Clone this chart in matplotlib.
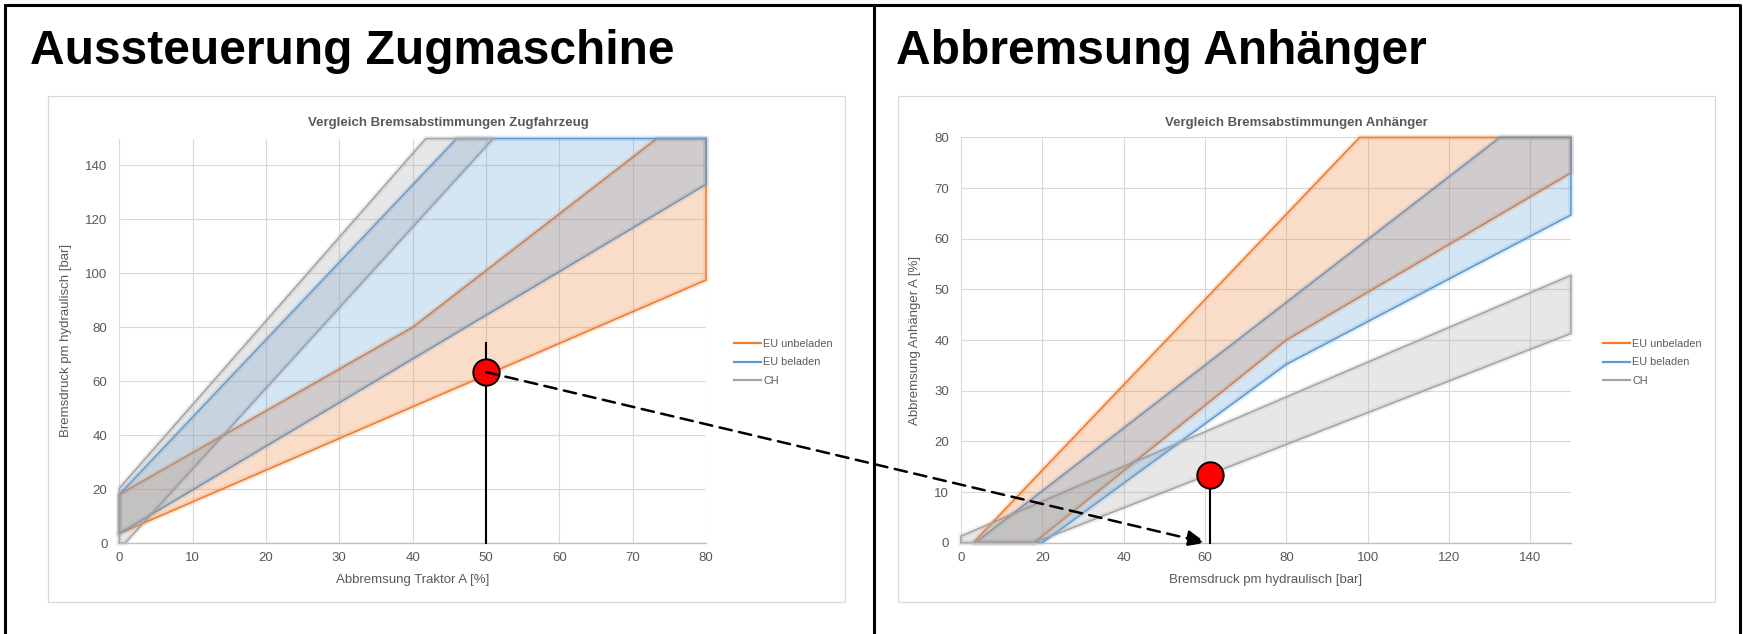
import matplotlib
matplotlib.use("Agg")
import matplotlib.pyplot as plt
from matplotlib.lines import Line2D
from matplotlib.patches import Rectangle, ConnectionPatch
import matplotlib.patheffects as pe

plt.rcParams['font.family'] = ['Liberation Sans', 'DejaVu Sans']

W, H, DPI = 1743, 634, 100
TXT = '#595959'
C_ORANGE = '#ed7d31'
C_BLUE = '#5b9bd5'
C_GRAY = '#a5a5a5'

# ---------------- data: left chart (Zugfahrzeug) ----------------
zf_title = "Vergleich Bremsabstimmungen Zugfahrzeug"
zf_xlabel = "Abbremsung Traktor A [%]"
zf_ylabel = "Bremsdruck pm hydraulisch [bar]"
zf_xticks = [0, 10, 20, 30, 40, 50, 60, 70, 80]
zf_yticks = [0, 20, 40, 60, 80, 100, 120, 140]
zf_xlim = [0, 80]
zf_ylim = [0, 150]

zf_eu_unbeladen_lower_x = [0, 80]
zf_eu_unbeladen_lower_y = [3.5, 97.5]
zf_eu_unbeladen_upper_x = [0, 40, 73.3, 80]
zf_eu_unbeladen_upper_y = [18, 80, 150, 150]

zf_eu_beladen_lower_x = [0, 80]
zf_eu_beladen_lower_y = [3.5, 133]
zf_eu_beladen_upper_x = [0, 46, 80]
zf_eu_beladen_upper_y = [18, 150, 150]

zf_ch_lower_x = [0, 0.8, 51]
zf_ch_lower_y = [0, 0, 150]
zf_ch_upper_x = [0, 41.8]
zf_ch_upper_y = [20.3, 150]

zf_point_x = 50
zf_point_y = 63.4
zf_marker_line_top = 74.3

# ---------------- data: right chart (Anhänger) ----------------
anh_title = "Vergleich Bremsabstimmungen Anhänger"
anh_xlabel = "Bremsdruck pm hydraulisch [bar]"
anh_ylabel = "Abbremsung Anhänger A [%]"
anh_xticks = [0, 20, 40, 60, 80, 100, 120, 140]
anh_yticks = [0, 10, 20, 30, 40, 50, 60, 70, 80]
anh_xlim = [0, 150]
anh_ylim = [0, 80]

anh_eu_unbeladen_lower_x = [18, 80, 150]
anh_eu_unbeladen_lower_y = [0, 40, 73]
anh_eu_unbeladen_upper_x = [3, 98, 150]
anh_eu_unbeladen_upper_y = [0, 80, 80]

anh_eu_beladen_lower_x = [20, 80, 150]
anh_eu_beladen_lower_y = [0, 35.2, 64.7]
anh_eu_beladen_upper_x = [3.5, 132.5, 150]
anh_eu_beladen_upper_y = [0, 80, 80]

anh_ch_lower_x = [0, 18, 150]
anh_ch_lower_y = [0, 0, 41.3]
anh_ch_upper_x = [0, 150]
anh_ch_upper_y = [1.3, 52.8]

anh_point_x = 61.3
anh_point_y = 13.4
arrow_end_x = 60.2
arrow_end_y = 0

legend_labels = ["EU unbeladen", "EU beladen", "CH"]
legend_colors = [C_ORANGE, C_BLUE, C_GRAY]

main_title_left = "Aussteuerung Zugmaschine"
main_title_right = "Abbremsung Anhänger"

# ---------------- figure ----------------
fig = plt.figure(figsize=(W / DPI, H / DPI), dpi=DPI)
fig.patch.set_facecolor('white')


def fx(px):
    return px / W


def fy(py):
    return 1 - py / H


# outer black frame (top, left, right, middle divider)
for (x0, y0, x1, y1) in [(4, 5, 1740, 5), (5, 4, 5, 634), (1740, 4, 1740, 634), (874, 4, 874, 634)]:
    fig.add_artist(Line2D([fx(x0), fx(x1)], [fy(y0), fy(y1)], color='black', lw=2.2,
                          transform=fig.transFigure, solid_capstyle='butt'))

# chart boxes
for (x0, y0, x1, y1) in [(48, 96, 845, 601.5), (898, 95.5, 1715, 601.5)]:
    fig.add_artist(Rectangle((fx(x0), fy(y1)), fx(x1) - fx(x0), fy(y0) - fy(y1),
                             transform=fig.transFigure, fill=False, edgecolor='#d9d9d9', lw=0.9))

# main titles
fig.text(fx(30), fy(63.5), main_title_left, fontsize=34.5, fontweight='bold',
         color='black', ha='left', va='baseline')
fig.text(fx(896), fy(63.5), main_title_right, fontsize=34.5, fontweight='bold',
         color='black', ha='left', va='baseline')

ax1 = fig.add_axes([fx(119.3), fy(543), fx(706) - fx(119.3), fy(138.5) - fy(543)])
ax2 = fig.add_axes([fx(961), fy(542.7), fx(1571) - fx(961), fy(137.4) - fy(542.7)])


def style_axes(ax, xticks, yticks, xlim, ylim, xlabel, ylabel, xlab_y, ylab_x):
    ax.set_xlim(*xlim)
    ax.set_ylim(*ylim)
    ax.set_xticks(xticks)
    ax.set_yticks(yticks)
    ax.set_facecolor('white')
    ax.grid(True, color='#d9d9d9', lw=0.8, zorder=0)
    ax.set_axisbelow(True)
    for s in ['top', 'right', 'left']:
        ax.spines[s].set_visible(False)
    ax.spines['bottom'].set_color('#bfbfbf')
    ax.spines['bottom'].set_linewidth(1.0)
    ax.tick_params(axis='both', length=0, labelsize=9.5, labelcolor=TXT)
    ax.tick_params(axis='y', pad=8.5)
    ax.tick_params(axis='x', pad=6.5)
    ax.set_xlabel(xlabel, fontsize=9.5, color=TXT)
    ax.set_ylabel(ylabel, fontsize=9.5, color=TXT)
    ax.xaxis.label.set_va('center')
    ax.yaxis.label.set_va('center')
    ax.xaxis.set_label_coords(0.5, xlab_y)
    ax.yaxis.set_label_coords(ylab_x, 0.5)


def draw_band(ax, xl, yl, xu, yu, color):
    xs = list(xl) + list(xu)[::-1]
    ys = list(yl) + list(yu)[::-1]
    ax.fill(xs, ys, color=color, alpha=0.26, lw=0, zorder=3)
    ax.plot(xs + [xs[0]], ys + [ys[0]], color=color, lw=1.15, zorder=2, clip_on=False,
            path_effects=[pe.Stroke(linewidth=4, foreground=color, alpha=0.18), pe.Normal()])


style_axes(ax1, zf_xticks, zf_yticks, zf_xlim, zf_ylim, zf_xlabel, zf_ylabel,
           (543 - 580) / (543 - 138.5), (66 - 119.3) / (706 - 119.3))
style_axes(ax2, anh_xticks, anh_yticks, anh_xlim, anh_ylim, anh_xlabel, anh_ylabel,
           (542.7 - 580) / (542.7 - 137.4), (914.6 - 961) / (1571 - 961))

draw_band(ax1, zf_eu_unbeladen_lower_x, zf_eu_unbeladen_lower_y,
          zf_eu_unbeladen_upper_x, zf_eu_unbeladen_upper_y, C_ORANGE)
draw_band(ax1, zf_eu_beladen_lower_x, zf_eu_beladen_lower_y,
          zf_eu_beladen_upper_x, zf_eu_beladen_upper_y, C_BLUE)
draw_band(ax1, zf_ch_lower_x, zf_ch_lower_y, zf_ch_upper_x, zf_ch_upper_y, C_GRAY)

draw_band(ax2, anh_eu_unbeladen_lower_x, anh_eu_unbeladen_lower_y,
          anh_eu_unbeladen_upper_x, anh_eu_unbeladen_upper_y, C_ORANGE)
draw_band(ax2, anh_eu_beladen_lower_x, anh_eu_beladen_lower_y,
          anh_eu_beladen_upper_x, anh_eu_beladen_upper_y, C_BLUE)
draw_band(ax2, anh_ch_lower_x, anh_ch_lower_y, anh_ch_upper_x, anh_ch_upper_y, C_GRAY)

# chart titles
fig.text(fx(448), fy(123.3), zf_title, fontsize=9.5, fontweight='bold', color=TXT,
         ha='center', va='center')
fig.text(fx(1296), fy(123.3), anh_title, fontsize=9.5, fontweight='bold', color=TXT,
         ha='center', va='center')

# legends
for ax, lx in [(ax1, 733.7), (ax2, 1602.7)]:
    handles = [Line2D([0], [0], color=c, lw=1.6) for c in legend_colors]
    ax.legend(handles, legend_labels, loc='center left',
              bbox_to_anchor=(fx(lx), fy(362.4)), bbox_transform=fig.transFigure,
              frameon=False, fontsize=7.8, labelcolor=TXT, handlelength=2.5,
              handletextpad=0.25, labelspacing=0.8, borderpad=0, borderaxespad=0)

# marker lines and points
ax1.plot([zf_point_x, zf_point_x], [0, zf_marker_line_top], color='black', lw=1.5,
         zorder=6, clip_on=False)
ax1.plot([zf_point_x], [zf_point_y], marker='o', markersize=19, markerfacecolor='#ff0000',
         markeredgecolor='black', markeredgewidth=1.4, zorder=8, clip_on=False)
ax2.plot([anh_point_x, anh_point_x], [0, anh_point_y], color='black', lw=1.5,
         zorder=6, clip_on=False)
ax2.plot([anh_point_x], [anh_point_y], marker='o', markersize=19, markerfacecolor='#ff0000',
         markeredgecolor='black', markeredgewidth=1.4, zorder=8, clip_on=False)

con = ConnectionPatch(xyA=(zf_point_x, zf_point_y), coordsA=ax1.transData,
                      xyB=(arrow_end_x, arrow_end_y), coordsB=ax2.transData,
                      arrowstyle='-|>,head_length=0.7,head_width=0.3', mutation_scale=16,
                      color='black', lw=1.8, linestyle=(0, (5, 3)), zorder=7)
fig.add_artist(con)

fig.savefig('out.png', dpi=DPI)
